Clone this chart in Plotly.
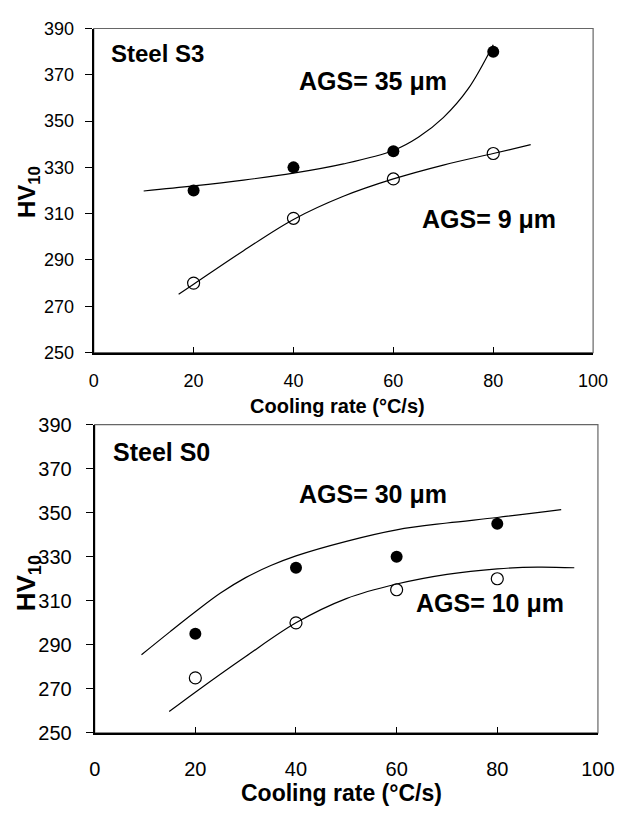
import plotly.graph_objects as go

# ---- data ----
rate = [20, 40, 60, 80]

s3_coarse = [320, 330, 337, 380]   # AGS = 35 um (filled)
s3_fine = [280, 308, 325, 336]     # AGS = 9 um (open)
s0_coarse = [295, 325, 330, 345]   # AGS = 30 um (filled)
s0_fine = [275, 300, 315, 320]     # AGS = 10 um (open)

# fitted trend curves
s3_coarse_fit_x = [10, 20, 30, 40, 50, 60, 65, 70, 75, 80]
s3_coarse_fit_y = [319.8, 322.0, 324.5, 327.5, 331.5, 337.3, 343.0, 351.5, 364.0, 383.0]
s3_fine_fit_x = [17, 20, 30, 40, 50, 60, 70, 80, 87.5]
s3_fine_fit_y = [275.2, 279.5, 294.0, 307.5, 317.5, 325.0, 331.0, 336.0, 339.8]
s0_coarse_fit_x = [9.3, 15, 20, 25, 30, 35, 40, 50, 60, 70, 80, 92.7]
s0_coarse_fit_y = [285.5, 296.0, 305.0, 313.5, 320.5, 326.0, 330.4, 337.0, 342.2, 345.3, 347.8, 351.4]
s0_fine_fit_x = [14.8, 20, 30, 40, 50, 60, 70, 80, 88, 95.3]
s0_fine_fit_y = [259.7, 268.5, 284.7, 300.0, 311.0, 317.6, 322.0, 324.5, 325.3, 325.0]

x_ticks = [0, 20, 40, 60, 80, 100]
y_ticks = [250, 270, 290, 310, 330, 350, 370, 390]

FONT = "Arial, Liberation Sans, sans-serif"
W, H = 640, 815

fig = go.Figure()

def add_panel(xa, ya, fx1, fy1, fx2, fy2, cx, cy, ox, oy):
    line = dict(color="black", width=1.2, shape="spline", smoothing=1.0)
    fig.add_trace(go.Scatter(x=fx1, y=fy1, mode="lines", line=line, xaxis=xa, yaxis=ya, hoverinfo="skip"))
    fig.add_trace(go.Scatter(x=fx2, y=fy2, mode="lines", line=line, xaxis=xa, yaxis=ya, hoverinfo="skip"))
    fig.add_trace(go.Scatter(x=rate, y=cy, mode="markers", xaxis=xa, yaxis=ya,
                             marker=dict(symbol="circle", size=12, color="black")))
    fig.add_trace(go.Scatter(x=rate, y=oy, mode="markers", xaxis=xa, yaxis=ya,
                             marker=dict(symbol="circle-open", size=12, color="black",
                                         line=dict(width=1.2, color="black"))))

add_panel("x", "y", s3_coarse_fit_x, s3_coarse_fit_y, s3_fine_fit_x, s3_fine_fit_y,
          rate, s3_coarse, rate, s3_fine)
add_panel("x2", "y2", s0_coarse_fit_x, s0_coarse_fit_y, s0_fine_fit_x, s0_fine_fit_y,
          rate, s0_coarse, rate, s0_fine)

def px(v):
    return v / W

def py(v):
    return 1 - v / H

def xaxis(domain, fs, anchor, standoff):
    return dict(domain=domain, range=[0, 100], tickvals=x_ticks, ticks="inside", ticklen=6,
                tickwidth=1, tickcolor="black", showline=True, linecolor="black", linewidth=2,
                showgrid=False, zeroline=False, anchor=anchor,
                tickfont=dict(family=FONT, size=fs, color="black"), ticklabelstandoff=standoff)

def yaxis(domain, fs, anchor, standoff):
    return dict(domain=domain, range=[250, 390], tickvals=y_ticks, ticks="outside", ticklen=7,
                tickwidth=1, tickcolor="black", showline=True, linecolor="black", linewidth=2,
                showgrid=False, zeroline=False, anchor=anchor,
                tickfont=dict(family=FONT, size=fs, color="black"), ticklabelstandoff=standoff)

fig.update_layout(
    width=W, height=H, margin=dict(l=0, r=0, t=0, b=0),
    paper_bgcolor="white", plot_bgcolor="white", showlegend=False,
    xaxis=xaxis([px(91), px(609)], 18, "y", 11),
    yaxis=yaxis([py(351), py(18)], 18, "x", 7),
    xaxis2=xaxis([px(92), px(614)], 20, "y2", 17),
    yaxis2=yaxis([py(742), py(425)], 20, "x2", 10),
)

# thin grey box (top/right borders)
for xr, yr in [("x domain", "y domain"), ("x2 domain", "y2 domain")]:
    fig.add_shape(type="rect", xref=xr, yref=yr, x0=0, x1=1, y0=0, y1=1,
                  line=dict(color="#666666", width=1.2), layer="below")

def ann(text, x, y, size, xanchor="left", angle=0):
    fig.add_annotation(text=text, x=px(x), y=py(y), xref="paper", yref="paper",
                       xanchor=xanchor, yanchor="middle", showarrow=False, textangle=angle,
                       font=dict(family=FONT, size=size, color="black"))

ann("<b>Steel S3</b>", 107, 44, 24)
ann("<b>AGS= 35 μm</b>", 302, 72, 25)
ann("<b>AGS= 9 μm</b>", 429, 214, 25)
ann("<b>Cooling rate (°C/s)</b>", 344, 406, 20, "center")
ann("<b>HV<sub>10</sub></b>", 24, 186, 24, "center", -90)

ann("<b>Steel S0</b>", 109, 453, 25)
ann("<b>AGS= 30 μm</b>", 302, 496, 25)
ann("<b>AGS= 10 μm</b>", 423, 608, 25)
ann("<b>Cooling rate (°C/s)</b>", 348, 804, 23, "center")
ann("<b>HV<sub>10</sub></b>", 22, 588, 26, "center", -90)

fig.write_html("out.html")
